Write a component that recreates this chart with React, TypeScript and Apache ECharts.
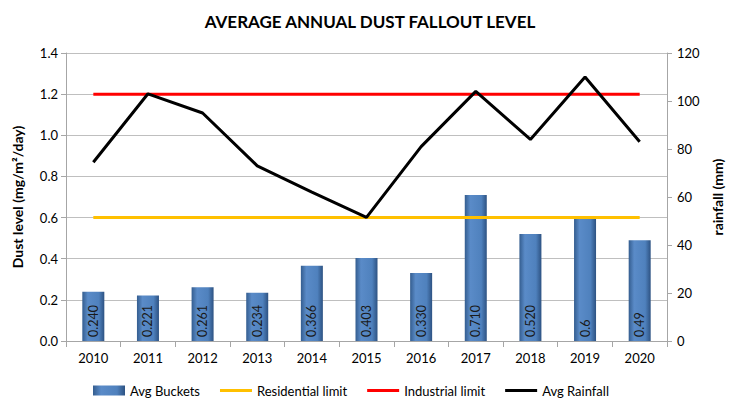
import React, { useEffect, useRef } from "react";
import * as echarts from "echarts";

const years = ["2010", "2011", "2012", "2013", "2014", "2015", "2016", "2017", "2018", "2019", "2020"];
const avgBuckets = [0.24, 0.221, 0.261, 0.234, 0.366, 0.403, 0.33, 0.71, 0.52, 0.6, 0.49];
const bucketLabels = ["0.240", "0.221", "0.261", "0.234", "0.366", "0.403", "0.330", "0.710", "0.520", "0.6", "0.49"];
const residentialLimit = [0.6, 0.6, 0.6, 0.6, 0.6, 0.6, 0.6, 0.6, 0.6, 0.6, 0.6];
const industrialLimit = [1.2, 1.2, 1.2, 1.2, 1.2, 1.2, 1.2, 1.2, 1.2, 1.2, 1.2];
const avgRainfall = [74.5, 103, 95, 73, 62, 51.5, 81, 104, 84, 110, 83];

const FONT = "Lato, 'Open Sans', sans-serif";
const LINE_ICON = "path://M0,0 L32,0 L32,3 L0,3 Z";

export default function App() {
  const ref = useRef<HTMLDivElement>(null);
  useEffect(() => {
    if (!ref.current) return;
    const chart = echarts.init(ref.current, null, { renderer: "svg" });
    chart.setOption({
      animation: false,
      textStyle: { fontFamily: FONT },
      title: {
        text: "AVERAGE ANNUAL DUST FALLOUT LEVEL",
        left: "center",
        top: 8,
        textStyle: { fontFamily: FONT, fontWeight: "bold", fontSize: 17, color: "#000" },
      },
      legend: {
        bottom: 6,
        left: 88,
        itemGap: 20,
        itemWidth: 32,
        itemHeight: 10,
        itemTextGap: 4,
        textStyle: { fontFamily: FONT, fontSize: 13, color: "#000" },
        data: [
          { name: "Avg Buckets", icon: "rect" },
          { name: "Residential limit", icon: LINE_ICON },
          { name: "Industrial limit", icon: LINE_ICON },
          { name: "Avg Rainfall", icon: LINE_ICON },
        ],
      },
      grid: { left: 66, right: 73, top: 53, bottom: 67 },
      xAxis: {
        type: "category",
        data: years,
        axisLine: { lineStyle: { color: "#a6a6a6" } },
        axisTick: { show: true, length: 6, lineStyle: { color: "#a6a6a6" } },
        axisLabel: { fontFamily: FONT, fontSize: 13, color: "#000", margin: 10 },
      },
      yAxis: [
        {
          type: "value",
          min: 0,
          max: 1.4,
          interval: 0.2,
          name: "Dust level (mg/m²/day)",
          nameLocation: "middle",
          nameGap: 42,
          nameTextStyle: { fontFamily: FONT, fontWeight: "bold", fontSize: 14, color: "#000" },
          axisLine: { show: true, lineStyle: { color: "#a6a6a6" } },
          axisTick: { show: true, length: 5, lineStyle: { color: "#a6a6a6" } },
          axisLabel: { fontFamily: FONT, fontSize: 13, color: "#000", formatter: (v: number) => v.toFixed(1) },
          splitLine: { show: true, lineStyle: { color: "#bfbfbf" } },
        },
        {
          type: "value",
          min: 0,
          max: 120,
          interval: 20,
          name: "rainfall (mm)",
          nameLocation: "middle",
          nameGap: 40,
          nameTextStyle: { fontFamily: FONT, fontWeight: "bold", fontSize: 14, color: "#000" },
          axisLine: { show: true, lineStyle: { color: "#a6a6a6" } },
          axisTick: { show: true, length: 5, lineStyle: { color: "#a6a6a6" } },
          axisLabel: { fontFamily: FONT, fontSize: 13, color: "#000", margin: 10 },
          splitLine: { show: false },
        },
      ],
      series: [
        {
          name: "Avg Buckets",
          type: "bar",
          data: avgBuckets,
          barWidth: 22,
          itemStyle: {
            color: new echarts.graphic.LinearGradient(0, 0, 1, 0, [
              { offset: 0, color: "#345d8f" },
              { offset: 0.25, color: "#5a8bc8" },
              { offset: 0.75, color: "#4f81bd" },
              { offset: 1, color: "#2d5282" },
            ]),
          },
          label: {
            show: true,
            position: "insideBottom",
            rotate: 90,
            align: "left",
            verticalAlign: "middle",
            distance: 4,
            fontFamily: FONT,
            fontSize: 12.5,
            color: "#1a1a1a",
            formatter: (p: any) => bucketLabels[p.dataIndex],
          },
          z: 1,
        },
        {
          name: "Residential limit",
          type: "line",
          data: residentialLimit,
          symbol: "none",
          lineStyle: { color: "#ffc000", width: 3 },
          itemStyle: { color: "#ffc000" },
          z: 2,
        },
        {
          name: "Industrial limit",
          type: "line",
          data: industrialLimit,
          symbol: "none",
          lineStyle: { color: "#ff0000", width: 3 },
          itemStyle: { color: "#ff0000" },
          z: 2,
        },
        {
          name: "Avg Rainfall",
          type: "line",
          yAxisIndex: 1,
          data: avgRainfall,
          symbol: "none",
          lineStyle: { color: "#000", width: 3 },
          itemStyle: { color: "#000" },
          z: 3,
        },
      ],
    });
    return () => chart.dispose();
  }, []);
  return <div ref={ref} style={{ width: 740, height: 408, position: "absolute", left: 0, top: 0 }} />;
}
